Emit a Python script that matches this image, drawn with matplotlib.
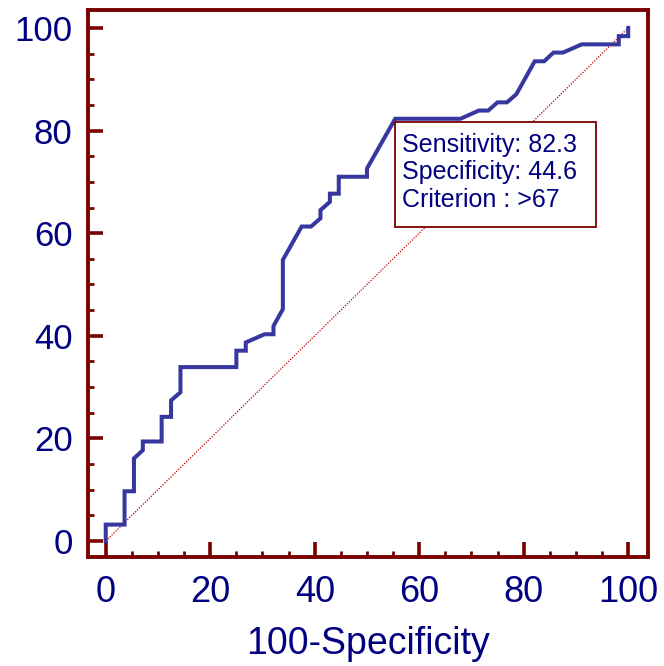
import matplotlib.pyplot as plt
from matplotlib.patches import Rectangle
from matplotlib.ticker import MultipleLocator

plt.rcParams['font.family'] = ['Liberation Sans', 'DejaVu Sans']

# ROC curve (x = 100-Specificity, y = Sensitivity)
fpr = [0, 0, 3.6, 3.6, 5.4, 5.4, 7.1, 7.1, 10.7, 10.7, 12.5, 12.5, 14.3, 14.3,
       25.0, 25.0, 26.8, 26.8, 30.4, 32.1, 32.1, 33.9, 33.9, 37.5, 39.3, 41.1,
       41.1, 42.9, 42.9, 44.6, 44.6, 50.0, 50.0, 55.4, 67.9, 71.4, 73.2, 75.0,
       76.8, 78.6, 82.1, 83.9, 85.7, 87.5, 91.1, 98.2, 98.2, 100, 100]
tpr = [0, 3.2, 3.2, 9.7, 9.7, 16.1, 17.7, 19.4, 19.4, 24.2, 24.2, 27.4, 29.0, 33.9,
       33.9, 37.1, 37.1, 38.7, 40.3, 40.3, 41.9, 45.2, 54.8, 61.3, 61.3, 62.9,
       64.5, 66.1, 67.7, 67.7, 71.0, 71.0, 72.6, 82.3, 82.3, 83.9, 83.9, 85.5,
       85.5, 87.1, 93.5, 93.5, 95.2, 95.2, 96.8, 96.8, 98.4, 98.4, 100]
diag = [0, 100]

sensitivity = 82.3
specificity = 44.6
criterion = '>67'

navy = '#000080'
frame = '#7a0000'

fig = plt.figure(figsize=(6.64, 6.66), dpi=100)
ax = fig.add_axes([0.1325, 0.163, 0.8435, 0.822])

ax.plot(diag, diag, color='#c00000', lw=0.9, ls=(0, (1, 1.2)))
ax.plot(fpr, tpr, color='#3737a0', lw=2.9, solid_joinstyle='miter')

# info box
ax.add_patch(Rectangle((55.3, 61.3), 38.5, 20.4, facecolor='white',
                       edgecolor=frame, lw=1.3, zorder=5))
ax.text(56.7, 79.5, 'Sensitivity: %.1f\nSpecificity: %.1f\nCriterion : %s'
        % (sensitivity, specificity, criterion),
        color=navy, fontsize=18, va='top', ha='left', linespacing=1.17, zorder=6)

ax.set_xlim(-3.4, 103.8)
ax.set_ylim(-3.2, 103.5)
ax.xaxis.set_major_locator(MultipleLocator(20))
ax.xaxis.set_minor_locator(MultipleLocator(5))
ax.yaxis.set_major_locator(MultipleLocator(20))
ax.yaxis.set_minor_locator(MultipleLocator(5))

for s in ax.spines.values():
    s.set_color(frame)
    s.set_linewidth(2.8)
ax.tick_params(which='major', direction='in', length=10.5, width=2.6,
               color=frame, labelcolor=navy, labelsize=25, pad=11)
ax.tick_params(which='minor', direction='in', length=4.6, width=2.0, color=frame)
ax.tick_params(axis='x', which='major', labelsize=26, pad=13)
ax.tick_params(axis='x', which='both', top=False)
ax.tick_params(axis='y', which='both', right=False)

ax.set_xlabel('100-Specificity', color=navy, fontsize=27, labelpad=11)

fig.savefig('out.png', dpi=100)
